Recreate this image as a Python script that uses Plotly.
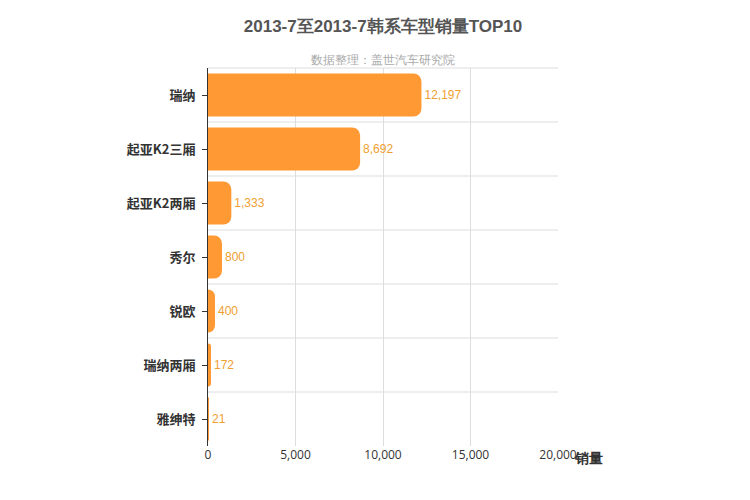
import plotly.graph_objects as go

categories = ["瑞纳", "起亚K2三厢", "起亚K2两厢", "秀尔", "锐欧", "瑞纳两厢", "雅绅特"]
sales = [12197, 8692, 1333, 800, 400, 172, 21]
x_ticks = [0, 5000, 10000, 15000, 20000]

cats = categories[::-1]
vals = sales[::-1]

fig = go.Figure(go.Bar(
    y=cats, x=vals, orientation="h",
    marker=dict(color="#FF9933", cornerradius=8, line=dict(width=0)),
    width=0.8,
    text=[f"{v:,}" for v in vals], textposition="outside",
    textfont=dict(color="#F0A030", size=12, family="Arial"),
    cliponaxis=False,
))

n = len(cats)
shapes = [dict(type="line", xref="paper", yref="paper", x0=0, x1=1, y0=i / n, y1=i / n,
               line=dict(color="#DDDDDD", width=1)) for i in range(1, n + 1)]

fig.update_layout(
    width=750, height=500,
    margin=dict(l=200, r=200, t=60, b=62),
    plot_bgcolor="white", paper_bgcolor="white",
    showlegend=False,
    shapes=shapes,
    title=dict(text="<b>2013-7至2013-7韩系车型销量TOP10</b>", x=0.5, y=0.975, xanchor="center",
               font=dict(size=17, color="#555555", family="Arial")),
    annotations=[
        dict(text="数据整理：盖世汽车研究院", x=0.5, y=1.05, xref="paper", yref="paper",
             showarrow=False, font=dict(size=12, color="#AAAAAA")),
        dict(text="<b>销量</b>", x=1.0, y=0, xref="paper", yref="paper", xanchor="left", yanchor="top",
             xshift=14, showarrow=False, font=dict(size=14, color="#333333")),
    ],
    xaxis=dict(range=[0, 20000], tickvals=x_ticks, tickformat=",", showgrid=True, gridcolor="#DDDDDD",
               zeroline=False, showline=False, tickfont=dict(size=12, color="#333333")),
    yaxis=dict(showline=True, linecolor="#333333", linewidth=1, ticks="outside", ticklen=5,
               tickcolor="#333333", showgrid=False,
               tickfont=dict(size=13, color="#333333", family="Noto Sans CJK SC"),
               ticklabelstandoff=4),
    bargap=0.2,
)
fig.update_yaxes(ticktext=[f"<b>{c}</b>" for c in cats], tickvals=cats)
fig.write_html("out.html")
